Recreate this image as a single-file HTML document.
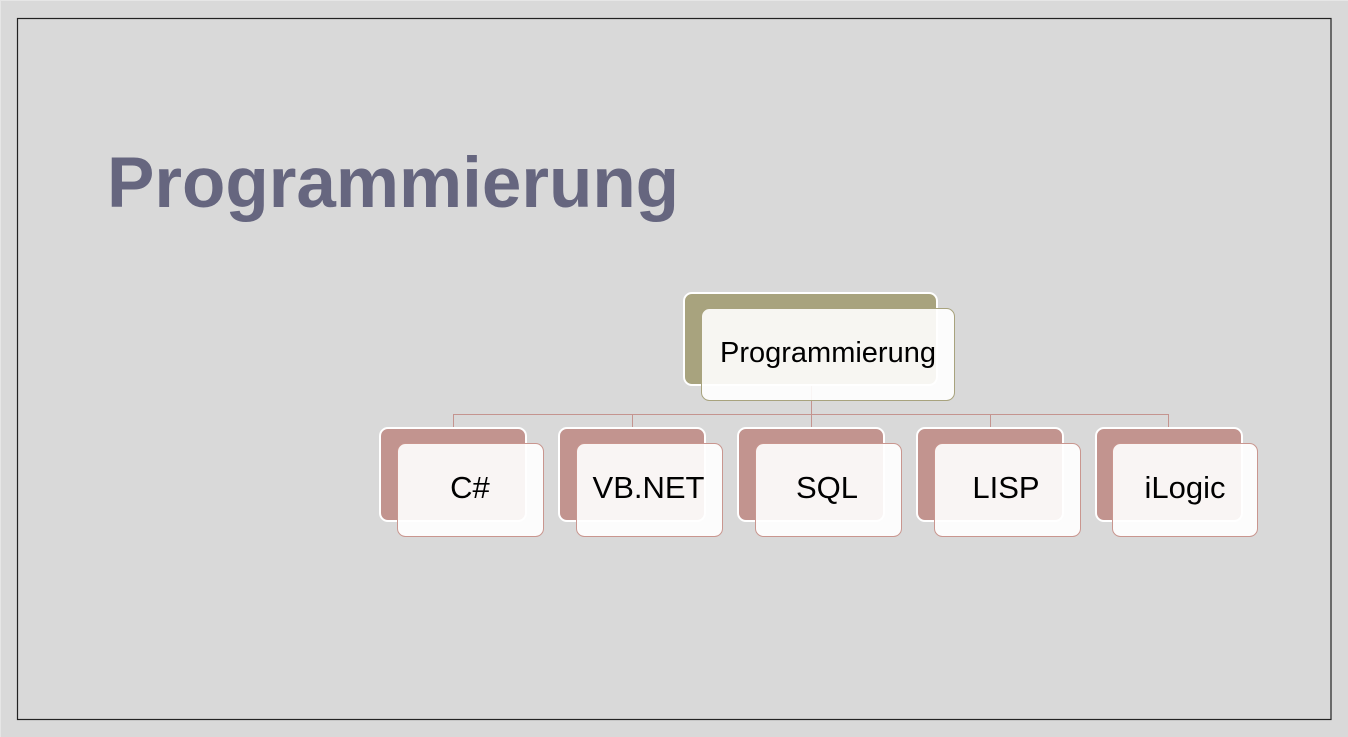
<!DOCTYPE html>
<html><head><meta charset="utf-8"><style>
html,body{margin:0;padding:0;background:#d9d9d9;}
body{width:1348px;height:737px;overflow:hidden;position:relative;}
svg{position:absolute;left:0;top:0;}
</style></head><body>
<svg width="1348" height="737" viewBox="0 0 1348 737" xmlns="http://www.w3.org/2000/svg">
<rect x="0" y="0" width="1348" height="737" fill="#d9d9d9"/>
<line x1="0" y1="0.5" x2="1348" y2="0.5" stroke="#e6e6e6" stroke-width="1"/>
<line x1="0.5" y1="0" x2="0.5" y2="737" stroke="#e6e6e6" stroke-width="1"/>
<rect x="17.5" y="18.5" width="1313.5" height="701" fill="none" stroke="#222" stroke-width="1.2"/>
<text x="107" y="207" font-family="Liberation Sans, sans-serif" font-weight="bold" font-size="71" fill="#66667f">Programmierung</text>

<!-- connectors -->
<g stroke="#c4948f" stroke-width="1" fill="none">
<line x1="453.5" y1="414.5" x2="1168.5" y2="414.5"/>
<line x1="453.5" y1="414" x2="453.5" y2="428"/>
<line x1="632.5" y1="414" x2="632.5" y2="428"/>
<line x1="811.5" y1="386" x2="811.5" y2="428"/>
<line x1="990.5" y1="414" x2="990.5" y2="428"/>
<line x1="1168.5" y1="414" x2="1168.5" y2="428"/>
</g>

<!-- top node -->
<rect x="684" y="293" width="253" height="92" rx="8" fill="#a8a37e" stroke="#ffffff" stroke-width="2"/>
<line x1="811.5" y1="386" x2="811.5" y2="401" stroke="#c4948f" stroke-width="1"/>
<rect x="701.5" y="308.5" width="253" height="92" rx="8" fill="rgba(255,255,255,0.9)" stroke="#a8a37e" stroke-width="1"/>
<text x="828" y="362" text-anchor="middle" font-family="Liberation Sans, sans-serif" font-size="29" fill="#000">Programmierung</text>

<!-- children -->
<g font-family="Liberation Sans, sans-serif" font-size="31" fill="#000" text-anchor="middle">
<rect x="380" y="428" width="146" height="93" rx="8" fill="#c2948f" stroke="#ffffff" stroke-width="2"/>
<rect x="397.5" y="443.5" width="146" height="93" rx="8" fill="rgba(255,255,255,0.9)" stroke="#c9968f" stroke-width="1"/>
<text x="470" y="498">C#</text>

<rect x="559" y="428" width="146" height="93" rx="8" fill="#c2948f" stroke="#ffffff" stroke-width="2"/>
<rect x="576.5" y="443.5" width="146" height="93" rx="8" fill="rgba(255,255,255,0.9)" stroke="#c9968f" stroke-width="1"/>
<text x="648.5" y="498">VB.NET</text>

<rect x="738" y="428" width="146" height="93" rx="8" fill="#c2948f" stroke="#ffffff" stroke-width="2"/>
<rect x="755.5" y="443.5" width="146" height="93" rx="8" fill="rgba(255,255,255,0.9)" stroke="#c9968f" stroke-width="1"/>
<text x="827" y="498">SQL</text>

<rect x="917" y="428" width="146" height="93" rx="8" fill="#c2948f" stroke="#ffffff" stroke-width="2"/>
<rect x="934.5" y="443.5" width="146" height="93" rx="8" fill="rgba(255,255,255,0.9)" stroke="#c9968f" stroke-width="1"/>
<text x="1006" y="498">LISP</text>

<rect x="1096" y="428" width="146" height="93" rx="8" fill="#c2948f" stroke="#ffffff" stroke-width="2"/>
<rect x="1112.5" y="443.5" width="145" height="93" rx="8" fill="rgba(255,255,255,0.9)" stroke="#c9968f" stroke-width="1"/>
<text x="1185" y="498">iLogic</text>
</g>
</svg>
</body></html>
